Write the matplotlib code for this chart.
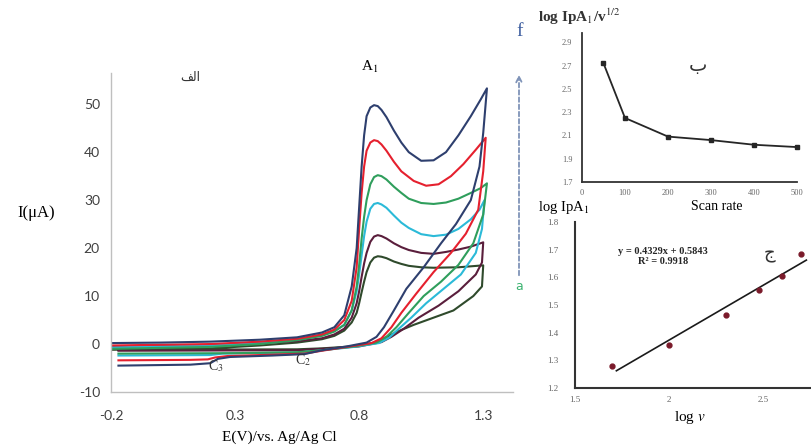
import matplotlib
matplotlib.use('Agg')
import matplotlib.pyplot as plt
import numpy as np

plt.rcParams['mathtext.fontset'] = 'stix'
plt.rcParams['axes.unicode_minus'] = False

# cyclic voltammograms (forward scan then reverse scan), E in V, I in uA
navy_E = [-0.20, 0.00, 0.20, 0.40, 0.55, 0.65, 0.70, 0.74, 0.77, 0.79, 0.80, 0.81, 0.82, 0.83, 0.845, 0.86,
          0.875, 0.89, 0.91, 0.94, 0.97, 1.00, 1.05, 1.10, 1.15, 1.20, 1.25, 1.29, 1.315,
          1.30, 1.285, 1.25, 1.19, 1.13, 1.06, 0.99, 0.94, 0.90, 0.87, 0.83, 0.75, 0.65, 0.58, 0.45, 0.28,
          0.23, 0.20, 0.12, -0.17]
navy_I = [0.2, 0.3, 0.5, 0.9, 1.4, 2.4, 3.5, 6, 12, 20, 28.5, 37, 43.5, 47.5, 49.3, 49.8,
          49.6, 48.8, 47.3, 44.5, 42, 40, 38.2, 38.3, 40, 43.5, 47.5, 51, 53.3,
          44, 37, 30, 25, 21, 16, 11.5, 7, 3.5, 1.5, 0.3, -0.5, -1.3, -2.1, -2.4, -2.7,
          -3.1, -4.0, -4.3, -4.5]

red_E = [-0.20, 0.20, 0.40, 0.55, 0.65, 0.70, 0.74, 0.77, 0.79, 0.80, 0.81, 0.82, 0.83, 0.845, 0.86,
         0.875, 0.89, 0.91, 0.94, 0.97, 1.02, 1.07, 1.12, 1.17, 1.22, 1.27, 1.31,
         1.30, 1.28, 1.23, 1.17, 1.10, 1.03, 0.97, 0.93, 0.89, 0.85, 0.75, 0.65, 0.58, 0.40, 0.27,
         0.22, 0.19, 0.12, -0.17]
red_I = [-0.3, 0.0, 0.5, 1.1, 2.0, 3.0, 5, 9, 16, 24, 31.5, 37, 40.3, 42, 42.5,
         42.3, 41.6, 40.3, 38, 36, 34, 33, 33.3, 35, 37.5, 40.5, 43,
         36, 28, 23, 19, 15, 10.5, 6.5, 3.5, 1.2, 0.2, -0.6, -1.4, -2.0, -2.3, -2.5,
         -2.8, -3.2, -3.3, -3.4]

green_E = [-0.20, 0.20, 0.40, 0.55, 0.65, 0.70, 0.74, 0.77, 0.79, 0.80, 0.81, 0.82, 0.83, 0.845, 0.86,
           0.875, 0.89, 0.91, 0.94, 0.97, 1.00, 1.05, 1.10, 1.15, 1.20, 1.25, 1.29, 1.315,
           1.30, 1.26, 1.20, 1.13, 1.06, 1.00, 0.95, 0.91, 0.87, 0.78, 0.65, 0.55, 0.30, -0.17]
green_I = [-1.0, -0.6, 0.0, 0.8, 1.7, 2.6, 4, 7, 12, 16.5, 22, 26.5, 30, 33.3, 34.8,
           35.2, 35, 34.3, 32.8, 31.5, 30.3, 29.4, 29.2, 29.5, 30.3, 31.5, 32.5, 33.5,
           27, 21, 16.5, 13, 10, 6.5, 3.5, 1.5, 0.3, -0.5, -1.3, -1.7, -1.9, -2.0]

cyan_E = [-0.20, 0.20, 0.40, 0.55, 0.65, 0.70, 0.74, 0.77, 0.79, 0.80, 0.81, 0.82, 0.83, 0.845, 0.86,
          0.875, 0.89, 0.91, 0.94, 0.97, 1.00, 1.05, 1.10, 1.15, 1.20, 1.25, 1.285, 1.305,
          1.295, 1.27, 1.21, 1.14, 1.07, 1.01, 0.96, 0.92, 0.88, 0.78, 0.65, 0.55, 0.35, 0.25,
          0.20, -0.17]
cyan_I = [-0.7, -0.3, 0.2, 0.9, 1.8, 2.7, 4, 7, 11, 14.5, 18.5, 22.5, 25.5, 28.2, 29.2,
          29.4, 29.1, 28.4, 26.8, 25.3, 24.2, 22.9, 22.5, 22.8, 24, 26, 28, 30,
          24, 19, 14.5, 11.5, 8.5, 5.5, 3.2, 1.3, 0.2, -0.6, -1.3, -1.8, -1.9, -2.0,
          -2.3, -2.4]

maroon_E = [-0.20, 0.20, 0.40, 0.55, 0.65, 0.70, 0.74, 0.77, 0.79, 0.80, 0.81, 0.82, 0.83, 0.845, 0.86,
            0.875, 0.89, 0.91, 0.94, 0.97, 1.00, 1.05, 1.10, 1.15, 1.20, 1.25, 1.30,
            1.295, 1.27, 1.20, 1.12, 1.04, 0.98, 0.93, 0.89, 0.80, 0.65, 0.55, -0.17]
maroon_I = [-0.5, -0.2, 0.2, 0.6, 1.2, 2.0, 3.2, 5.5, 8.5, 11, 14, 16.8, 19, 21.3, 22.4,
            22.7, 22.5, 22, 21, 20.2, 19.6, 19, 18.8, 19.2, 19.7, 20.3, 21.2,
            17, 14.5, 11, 8, 5.5, 3.2, 1.5, 0.4, -0.5, -1.0, -1.3, -1.4]

dkgreen_E = [-0.20, 0.20, 0.40, 0.55, 0.65, 0.70, 0.74, 0.77, 0.79, 0.80, 0.81, 0.82, 0.83, 0.845, 0.86,
             0.875, 0.89, 0.91, 0.94, 0.97, 1.00, 1.05, 1.10, 1.20, 1.30,
             1.295, 1.26, 1.18, 1.10, 1.02, 0.95, 0.90, 0.86, 0.80, 0.65, 0.55, -0.17]
dkgreen_I = [-1.2, -0.9, -0.3, 0.3, 1.0, 1.7, 2.8, 4.5, 6.5, 8.5, 10.8, 13, 15, 17, 18,
             18.3, 18.2, 17.9, 17.2, 16.7, 16.3, 16, 15.9, 16, 16.4,
             12, 10, 7, 5.5, 4, 2.5, 1.2, 0.3, -0.4, -0.9, -1.1, -1.2]

# inset b: log IpA1/v^1/2 vs scan rate
scan_rate = [50, 100, 200, 300, 400, 500]
log_ip_v = [2.72, 2.25, 2.09, 2.06, 2.02, 2.00]

# inset c: log IpA1 vs log v
log_v = [1.699, 2.0, 2.301, 2.477, 2.602, 2.699]
log_ip = [1.28, 1.355, 1.464, 1.556, 1.604, 1.684]

W, H = 812, 446


def fx(px):
    return px / W


def fy(py):
    return 1 - py / H


fig = plt.figure(figsize=(8.12, 4.46), dpi=100)

# ---- main CV plot
ax = fig.add_axes([fx(111), fy(392), (513 - 111) / W, (392 - 73) / H])
curves = [(dkgreen_E, dkgreen_I, '#2f4a2c'), (maroon_E, maroon_I, '#5a1e3c'),
          (cyan_E, cyan_I, '#2bbad8'), (green_E, green_I, '#2f9e5c'),
          (red_E, red_I, '#e5202e'), (navy_E, navy_I, '#2e3f6e')]
for e, i, c in curves:
    ax.plot(e, i, color=c, lw=1.5, solid_joinstyle='round')
ax.set_xlim(-0.2, 1.42)
ax.set_ylim(-10, 56.5)
ax.set_xticks([-0.2, 0.3, 0.8, 1.3])
ax.set_xticklabels(['-0.2', '0.3', '0.8', '1.3'])
ax.set_yticks(range(-10, 51, 10))
for s in ['top', 'right']:
    ax.spines[s].set_visible(False)
for s in ['left', 'bottom']:
    ax.spines[s].set_color('#bfbfbf')
    ax.spines[s].set_linewidth(1.0)
ax.tick_params(axis='x', length=0, pad=13, labelsize=10, labelcolor='#404040')
ax.tick_params(axis='y', length=0, pad=8, labelsize=10, labelcolor='#404040')
for lab in ax.get_xticklabels() + ax.get_yticklabels():
    lab.set_family('Lato')

serif = 'Liberation Serif'
fig.text(fx(36), fy(213), 'I(μA)', family=serif, fontsize=12, ha='center', va='center')
fig.text(fx(279), fy(437), 'E(V)/vs. Ag/Ag Cl', family=serif, fontsize=11, ha='center', va='center')
fig.text(fx(370), fy(67), r'A$_1$', family=serif, fontsize=11, ha='center', va='center')
fig.text(fx(303), fy(360), r'C$_2$', family=serif, fontsize=10, ha='center', va='center', color='#333333')
fig.text(fx(216), fy(366), r'C$_3$', family=serif, fontsize=10, ha='center', va='center', color='#333333')
fig.text(fx(190), fy(77), '\ufed2\ufedf\ufe8d', family='DejaVu Sans', fontsize=9, ha='center', va='center',
         color='#333333')

# scan direction arrow a -> f
fig.text(fx(520), fy(32), 'f', family=serif, fontsize=14, ha='center', va='center', color='#3f5fa0')
fig.text(fx(519), fy(286), 'a', family='DejaVu Sans', fontsize=9, ha='center', va='center', color='#3cb371')
ax.annotate('', xy=(fx(519), fy(72)), xytext=(fx(519), fy(278)),
            xycoords='figure fraction', textcoords='figure fraction',
            arrowprops=dict(arrowstyle='->', color='#7f93b8', lw=1.3, linestyle=(0, (2.5, 1.5))))

# ---- inset b
ax2 = fig.add_axes([fx(582), fy(182), (797 - 582) / W, (182 - 33) / H])
ax2.plot(scan_rate, log_ip_v, color='#262626', lw=1.3, marker='s', ms=3, clip_on=False)
ax2.set_xlim(0, 500)
ax2.set_ylim(1.7, 2.98)
ax2.set_xticks(range(0, 501, 100))
ax2.set_yticks([1.7, 1.9, 2.1, 2.3, 2.5, 2.7, 2.9])
ax2.set_yticklabels(['1.7', '1.9', '2.1', '2.3', '2.5', '2.7', '2.9'])
for s in ['top', 'right']:
    ax2.spines[s].set_visible(False)
for s in ['left', 'bottom']:
    ax2.spines[s].set_color('#333333')
    ax2.spines[s].set_linewidth(1.3)
ax2.tick_params(length=0, labelsize=6, labelcolor='#666666')
ax2.tick_params(axis='y', pad=7)
ax2.tick_params(axis='x', pad=5)
for lab in ax2.get_xticklabels() + ax2.get_yticklabels():
    lab.set_family(serif)
fig.text(fx(538), fy(17), r'log IpA$_1$/v$^{1/2}$', family=serif, fontsize=11, weight='bold',
         ha='left', va='center', color='#333333')
fig.text(fx(698), fy(66), 'ب', family='DejaVu Sans', fontsize=14, ha='center', va='center', color='#333333')
fig.text(fx(717), fy(207), 'Scan rate', family=serif, fontsize=10, ha='center', va='center')

# ---- inset c
ax3 = fig.add_axes([fx(575), fy(388), (W - 575) / W, (388 - 222) / H])
slope, icpt = np.polyfit(log_v, log_ip, 1)
xl = np.array([1.72, 2.73])
ax3.plot(xl, slope * xl + icpt, color='#1a1a1a', lw=1.2)
ax3.plot(log_v, log_ip, 'o', color='#7a1a2a', ms=3.5, clip_on=False)
ax3.set_xlim(1.5, 2.76)
ax3.set_ylim(1.2, 1.8)
ax3.set_xticks([1.5, 2.0, 2.5])
ax3.set_xticklabels(['1.5', '2', '2.5'])
ax3.set_yticks([1.2, 1.3, 1.4, 1.5, 1.6, 1.7, 1.8])
for s in ['top', 'right']:
    ax3.spines[s].set_visible(False)
for s in ['left', 'bottom']:
    ax3.spines[s].set_color('#333333')
    ax3.spines[s].set_linewidth(1.5)
ax3.tick_params(length=0, labelsize=6.5, labelcolor='#666666')
ax3.tick_params(axis='y', pad=12)
ax3.tick_params(axis='x', pad=6)
for lab in ax3.get_xticklabels() + ax3.get_yticklabels():
    lab.set_family(serif)
fig.text(fx(538), fy(207), r'log IpA$_1$', family=serif, fontsize=10.5, ha='left', va='center')
fig.text(fx(663), fy(252), 'y = 0.4329x + 0.5843', family=serif, fontsize=7.5, weight='bold',
         ha='center', va='center', color='#262626')
fig.text(fx(663), fy(262), 'R² = 0.9918', family=serif, fontsize=7.5, weight='bold',
         ha='center', va='center', color='#262626')
fig.text(fx(770), fy(254), 'ج', family='DejaVu Sans', fontsize=13, ha='center', va='center', color='#333333')
fig.text(fx(690), fy(417), r'log $v$', family=serif, fontsize=11, ha='center', va='center')

fig.savefig('out.png', dpi=100)
